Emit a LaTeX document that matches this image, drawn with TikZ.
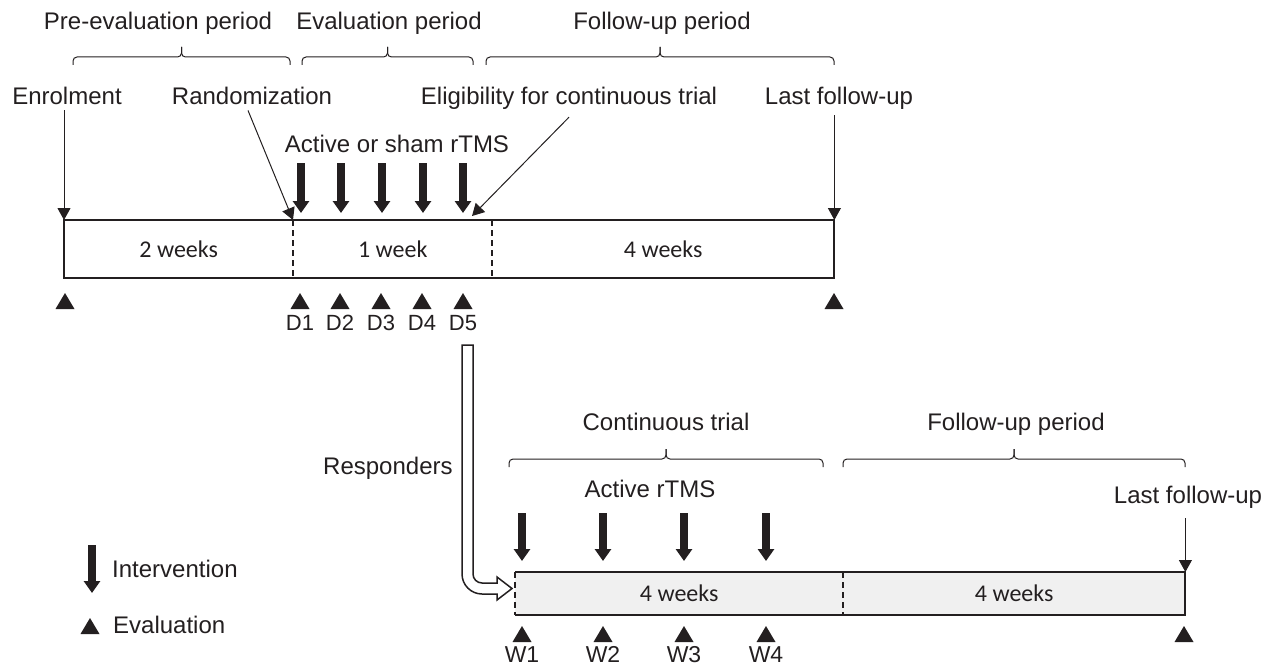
\documentclass[tikz,border=0pt]{standalone}
\usepackage{fontspec}
\setmainfont{Liberation Sans}
\newfontfamily\weekfont{Carlito}
\usetikzlibrary{arrows.meta,calc}
\definecolor{ink}{HTML}{231F20}
\definecolor{boxfill}{HTML}{F0F0F0}

\tikzset{
  lbl/.style={anchor=base, inner sep=0pt, text=ink, font=\fontsize{24}{28}\selectfont},
  daylbl/.style={anchor=base, inner sep=0pt, text=ink, font=\fontsize{22}{25}\selectfont},
  wklbl/.style={anchor=base, inner sep=0pt, text=ink, font=\fontsize{23}{26}\selectfont},
  seg/.style={minimum height=#1, inner sep=0pt, anchor=north west, text=ink,
    font=\weekfont\fontsize{24}{28}\selectfont},
  boxline/.style={draw=ink, line width=2pt},
  divline/.style={draw=ink, line width=1.6pt, dash pattern=on 6pt off 4pt},
  thinarrow/.style={draw=ink, line width=1pt, -{Triangle[width=13pt,length=12pt]}},
  intarrow/.style={draw=ink, line width=8pt, -{Triangle[width=16pt,length=12pt]}},
  bracestyle/.style={draw=ink, line width=1pt, rounded corners=4pt},
  evaltri/.pic={\fill[ink] (-9.5,8) -- (9.5,8) -- (0,-8) -- cycle;}
}
% period brace: ends hang down, tip points up at the middle
\newcommand\periodbrace[3]{% left x, right x, base y
  \draw[bracestyle] (#1,#3) -- (#1,#3-8) -- ({(#1+#2)/2},#3-8) -- ({(#1+#2)/2},#3-18);
  \draw[bracestyle] ({(#1+#2)/2},#3-18) -- ({(#1+#2)/2},#3-8) -- (#2,#3-8) -- (#2,#3);
}

\begin{document}
\begin{tikzpicture}[x=1pt,y=-1pt]
\useasboundingbox (0,0) rectangle (1276,669);

% ---------------- main trial timeline ----------------
\node[seg=58pt, minimum width=229pt] (pre) at (64,220) {2 weeks};
\node[seg=58pt, minimum width=199pt] (eval) at (293,220) {1 week};
\node[seg=58pt, minimum width=342pt] (fu) at (492,220) {4 weeks};
\draw[boxline] (pre.north west) rectangle (fu.south east);
\draw[divline] (eval.north west) -- (eval.south west);
\draw[divline] (fu.north west) -- (fu.south west);

% period headings and braces
\node[lbl] (hpre) at (158,30) {Pre-evaluation period};
\node[lbl] (heval) at (389,30) {Evaluation period};
\node[lbl] (hfu) at (662,30) {Follow-up period};
\periodbrace{73}{290}{65}
\periodbrace{302}{473}{65}
\periodbrace{486}{834}{65}

% milestones
\node[lbl] (enrol) at (67,104) {Enrolment};
\node[lbl] (rand) at (252,104) {Randomization};
\node[lbl] (elig) at (569,104) {Eligibility for continuous trial};
\node[lbl] (last) at (839,104) {Last follow-up};
\coordinate (eligtip) at (472,216);
\draw[thinarrow] (enrol.south -| pre.north west) ++(0,6) -- (pre.north west);
\draw[thinarrow] ([xshift=-4pt,yshift=-6pt]rand.south) -- (eval.north west);
\draw[thinarrow] ([yshift=-8pt]elig.south) -- (eligtip);
\draw[thinarrow] (last.south -| fu.north east) ++(0,6) -- (fu.north east);

% daily sessions
\node[lbl] (sham) at (397,152) {Active or sham rTMS};
\foreach \x in {301,341,382,423,463}
  \draw[intarrow] (\x,163) -- (\x,213);

% evaluations
\pic at (65,301) {evaltri};
\pic at (834,301) {evaltri};
\foreach \x/\d in {300/1,340/2,381/3,422/4,463/5} {
  \pic at (\x,301) {evaltri};
  \node[daylbl] (d\d) at (\x,330) {D\d};
}

% ---------------- continuous trial ----------------
\node[seg=43pt, minimum width=328pt, fill=boxfill] (ct) at (515,572) {4 weeks};
\node[seg=43pt, minimum width=342pt, fill=boxfill] (fu2) at (843,572) {4 weeks};
\draw[boxline] (ct.north west) -- (fu2.north east) -- (fu2.south east) -- (ct.south west);
\draw[divline] (ct.north west) -- (ct.south west);
\draw[divline] (fu2.north west) -- (fu2.south west);

\node[lbl] (hct) at (666,430) {Continuous trial};
\node[lbl] (hfu2) at (1016,430) {Follow-up period};
\periodbrace{509}{823}{467}
\periodbrace{843}{1185}{467}

\node[lbl] (act) at (650,497) {Active rTMS};
\foreach \x in {522,603,684,766}
  \draw[intarrow] (\x,513) -- (\x,561);

\node[lbl] (last2) at (1188,503) {Last follow-up};
\draw[thinarrow] (last2.south -| fu2.north east) ++(0,10) -- (fu2.north east);

\pic at (1184,634) {evaltri};
\foreach \x/\w in {522/1,603/2,684/3,766/4} {
  \pic at (\x,634) {evaltri};
  \node[wklbl] (w\w) at (\x,662) {W\w};
}

% responders move on to the continuous trial
\node[lbl, anchor=base west] (resp) at (323,474) {Responders};
\draw[draw=ink, line width=1.5pt, fill=white, line join=miter]
  (462,345) -- (473,345) -- (473,574)
  .. controls (473,579) and (477,583) .. (482,583)
  -- (497,583) -- (497,577) -- (512,588.5) -- (497,600) -- (497,594)
  -- (482,594)
  .. controls (471,594) and (462,585) .. (462,574) -- cycle;

% ---------------- legend ----------------
\draw[intarrow] (92,545) -- (92,593);
\node[lbl, anchor=base west] (legint) at (112,577) {Intervention};
\pic at (90,626) {evaltri};
\node[lbl, anchor=base west] (legeval) at (113,633) {Evaluation};
\end{tikzpicture}
\end{document}
